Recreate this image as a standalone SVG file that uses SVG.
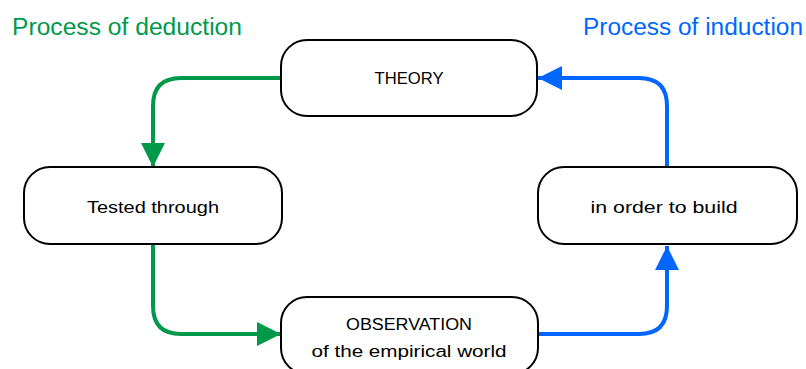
<svg xmlns="http://www.w3.org/2000/svg" width="806" height="369" viewBox="0 0 806 369">
<style>
.box{fill:#fff;stroke:#000;stroke-width:2}
.lbl{font-family:"Liberation Sans",Arial,sans-serif;font-size:16px;fill:#000;text-anchor:middle}
.title{font-family:"Liberation Sans",Arial,sans-serif;font-size:23px}
.g{fill:none;stroke:#00994C;stroke-width:4}
.b{fill:none;stroke:#0066FF;stroke-width:4}
</style>
<defs>
<marker id="ag" markerUnits="userSpaceOnUse" markerWidth="26" markerHeight="26" refX="24" refY="12" orient="auto"><path d="M0,0 L24,12 L0,24 Z" fill="#00994C"/></marker>
<marker id="ab" markerUnits="userSpaceOnUse" markerWidth="26" markerHeight="26" refX="24" refY="12" orient="auto"><path d="M0,0 L24,12 L0,24 Z" fill="#0066FF"/></marker>
</defs>
<text class="title" x="12" y="35" fill="#00994C" textLength="230" lengthAdjust="spacingAndGlyphs">Process of deduction</text>
<text class="title" x="583" y="35" fill="#0066FF" textLength="220" lengthAdjust="spacingAndGlyphs">Process of induction</text>
<g id="connectors">
<path class="g" d="M281,78 H181 Q153,78 153,106 V167" marker-end="url(#ag)"/>
<path class="g" d="M153,244 V306 Q153,334 181,334 H281" marker-end="url(#ag)"/>
<path class="b" d="M538,334 H639 Q667,334 667,306 V246" marker-end="url(#ab)"/>
<path class="b" d="M667,167 V106 Q667,78 639,78 H538" marker-end="url(#ab)"/>
</g>
<g id="theory">
<rect class="box" x="281" y="40" width="256" height="76" rx="26"/>
<text class="lbl" x="409" y="84" textLength="69" lengthAdjust="spacingAndGlyphs">THEORY</text>
</g>
<g id="tested">
<rect class="box" x="24" y="167" width="258" height="77" rx="26"/>
<text class="lbl" x="153" y="213" textLength="132" lengthAdjust="spacingAndGlyphs">Tested through</text>
</g>
<g id="build">
<rect class="box" x="538" y="167" width="259" height="77" rx="26"/>
<text class="lbl" x="664" y="213" textLength="147" lengthAdjust="spacingAndGlyphs">in order to build</text>
</g>
<g id="observation">
<rect class="box" x="281" y="297" width="257" height="77" rx="26"/>
<text class="lbl" x="409" y="330" textLength="126" lengthAdjust="spacingAndGlyphs">OBSERVATION</text>
<text class="lbl" x="409" y="357" textLength="195" lengthAdjust="spacingAndGlyphs">of the empirical world</text>
</g>
</svg>
